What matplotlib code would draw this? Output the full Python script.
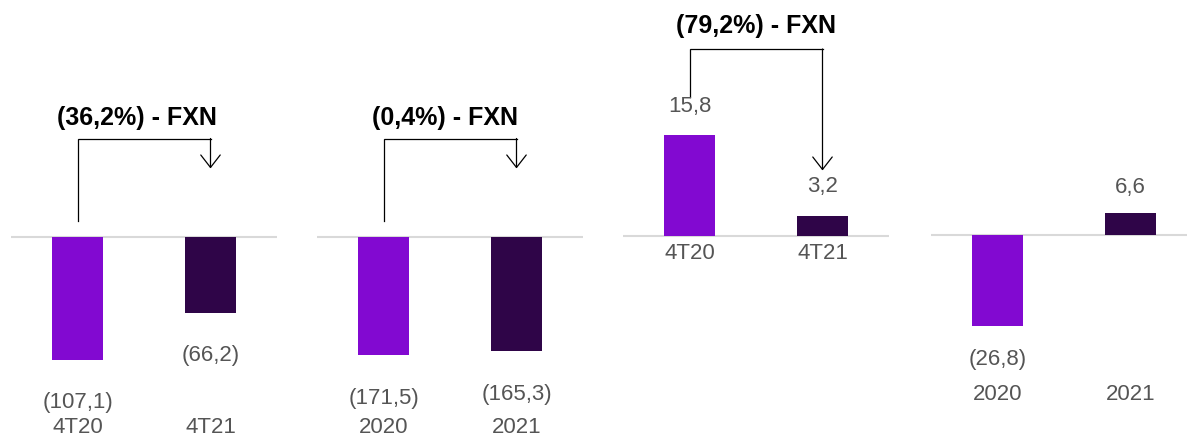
# Four small FXN comparison bar panels
import matplotlib
matplotlib.use('Agg')
import matplotlib.pyplot as plt

plt.rcParams['font.family'] = ['Liberation Sans', 'DejaVu Sans']

# data
periods_q = ['4T20', '4T21']
periods_y = ['2020', '2021']
ebitda_q = [-107.1, -66.2]
ebitda_y = [-171.5, -165.3]
income_q = [15.8, 3.2]
income_y = [-26.8, 6.6]
changes = ['(36,2%) - FXN', '(0,4%) - FXN', '(79,2%) - FXN', None]

def fmt(v):
    s = f'{abs(v):.1f}'.replace('.', ',')
    return f'({s})' if v < 0 else s

W, H = 1187, 439
PURPLE = '#8209D1'
DARK = '#2F0548'
GREY = '#555555'

# layout per panel: left px, baseline px, px per unit, neg/pos label offset px,
# tick label y px, bracket (top, left bottom, arrow tip) px, title pos
panels = [
    dict(cats=periods_q, vals=ebitda_q, left=11, base=237.5, scale=1.15,
         neg=42, pos=28, tick=428, br=(139.5, 221.5, 169.5), title=(0.45, 118)),
    dict(cats=periods_y, vals=ebitda_y, left=317, base=237.5, scale=0.69,
         neg=43, pos=28, tick=428, br=(139.5, 221.5, 169.5), title=(0.46, 118)),
    dict(cats=periods_q, vals=income_q, left=623, base=237, scale=6.38,
         neg=32, pos=30, tick=254, br=(50, 98, 171.5), title=(0.5, 26)),
    dict(cats=periods_y, vals=income_y, left=931, base=236, scale=3.4,
         neg=32, pos=26, tick=395, br=None, title=None),
]

fig = plt.figure(figsize=(W / 100, H / 100), dpi=100)

for p, change in zip(panels, changes):
    ax = fig.add_axes([p['left'] / W, 0, 266 / W, 1])
    ax.set_xlim(-0.5, 1.5)
    ax.set_ylim((p['base'] - H) / p['scale'], p['base'] / p['scale'])
    ax.axis('off')
    ax.axhline(0, color='#D9D9D9', lw=1.5, zorder=1)
    x = range(len(p['cats']))
    ax.bar(x, p['vals'], width=0.376, color=[PURPLE, DARK], zorder=2)

    tr = ax.get_xaxis_transform()
    for i, (c, v) in enumerate(zip(p['cats'], p['vals'])):
        off = -p['neg'] if v < 0 else p['pos']
        ax.annotate(fmt(v), xy=(i, v), xytext=(0, off * 0.72),
                    textcoords='offset points', ha='center', va='center',
                    fontsize=16, color=GREY)
        ax.text(i, 1 - p['tick'] / H, c, transform=tr, ha='center',
                va='center', fontsize=16, color=GREY)

    if change:
        top, lb, tip = [1 - v / H for v in p['br']]
        ax.plot([0, 0, 1], [lb, top, top], transform=tr, color='black',
                lw=0.9, clip_on=False, solid_joinstyle='miter')
        ax.annotate('', xy=(1, tip), xycoords=tr, xytext=(1, top),
                    textcoords=tr,
                    arrowprops=dict(arrowstyle='->,head_length=0.9,head_width=0.7',
                                    color='black', lw=0.9, shrinkA=0, shrinkB=0))
        tx, ty = p['title']
        ax.text(tx, 1 - ty / H, change, transform=tr, ha='center',
                va='center', fontsize=18, fontweight='bold', color='black')

fig.savefig('out.png', dpi=100)
